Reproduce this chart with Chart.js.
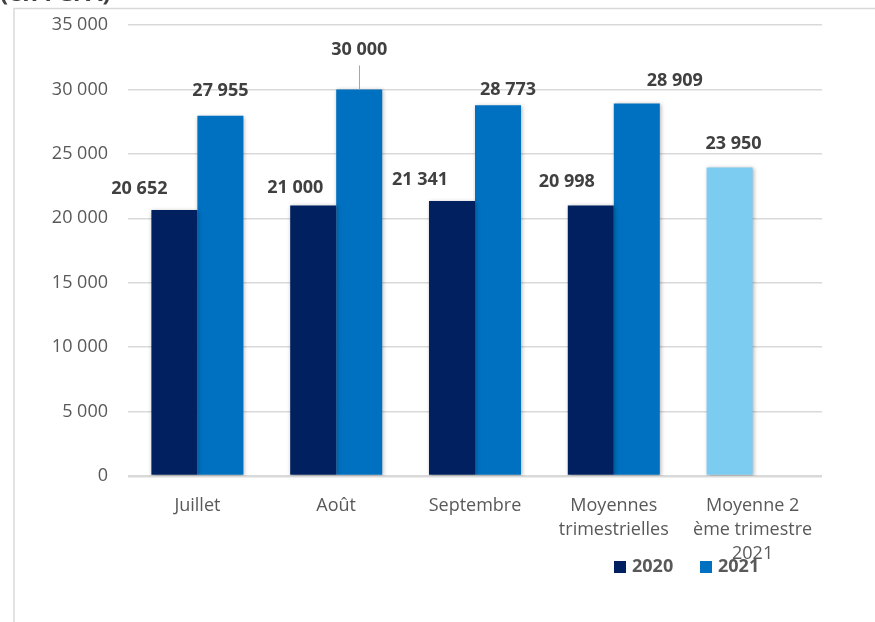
<!DOCTYPE html>
<html>
<head>
<meta charset="utf-8">
<script src="https://cdn.jsdelivr.net/npm/chart.js@4/dist/chart.umd.min.js"></script>
<style>
  html, body { margin: 0; padding: 0; background: #fff; }
  #wrap { position: relative; width: 875px; height: 622px; }
</style>
</head>
<body>
<div id="wrap"><canvas id="chart-bar" width="875" height="622"></canvas></div>
<script>
// donnees
const categories = ['Juillet', 'Août', 'Septembre', ['Moyennes', 'trimestrielles'], ['Moyenne 2', 'ème trimestre', '2021']];
const values2020 = [20652, 21000, 21341, 20998, 23950];
const values2021 = [27955, 30000, 28773, 28909, null];
const yTicks = [0, 5000, 10000, 15000, 20000, 25000, 30000, 35000];

const navy = '#002060';
const blue = '#0070c0';
const lightBlue = '#7ccbf0';

// decalage des etiquettes par rapport au haut de la barre
const labelShift = [
    [[-35, -21], [-18, -18], [-32, -21], [-24, -24], [4, -24]],
    [[0, -25], [0, -40], [10, -15], [38, -23], [0, 0]]
];

function fmt(v) {
    return String(v).replace(/\B(?=(\d{3})+(?!\d))/g, ' ');
}

const frame = {
    id: 'frame',
    beforeDraw(chart) {
        let ctx = chart.ctx;
        ctx.save();
        ctx.strokeStyle = '#d9d9d9';
        ctx.lineWidth = 1.5;
        ctx.beginPath();
        ctx.moveTo(14, 622);
        ctx.lineTo(14, 8.5);
        ctx.lineTo(875, 8.5);
        ctx.stroke();
        ctx.restore();
    }
};

const shadow = {
    id: 'shadow',
    beforeDatasetsDraw(chart) {
        let ctx = chart.ctx;
        ctx.save();
        ctx.shadowColor = 'rgba(0,0,0,0.3)';
        ctx.shadowBlur = 4;
        ctx.shadowOffsetX = 1;
        ctx.shadowOffsetY = 1;
    },
    afterDatasetsDraw(chart) {
        chart.ctx.restore();
    }
};

const labels = {
    id: 'labels',
    afterDraw(chart) {
        let ctx = chart.ctx;
        ctx.save();
        // titre coupe en haut
        ctx.fillStyle = '#404040';
        ctx.font = 'bold 24px "Open Sans"';
        ctx.textAlign = 'left';
        ctx.textBaseline = 'alphabetic';
        ctx.fillText('(en FCFA)', 0, 1);

        ctx.font = 'bold 18px "Open Sans"';
        ctx.textAlign = 'center';
        ctx.textBaseline = 'middle';
        chart.data.datasets.forEach(function (ds, d) {
            let meta = chart.getDatasetMeta(d);
            meta.data.forEach(function (bar, i) {
                let v = ds.data[i];
                if (v === null) return;
                let s = labelShift[d][i];
                let x = bar.x + s[0], y = bar.y + s[1];
                if (d === 1 && i === 1) {
                    ctx.strokeStyle = '#a6a6a6';
                    ctx.lineWidth = 1;
                    ctx.beginPath();
                    ctx.moveTo(Math.round(bar.x) + 0.5, y + 16);
                    ctx.lineTo(Math.round(bar.x) + 0.5, bar.y);
                    ctx.stroke();
                }
                ctx.fillStyle = '#404040';
                ctx.fillText(fmt(v), x, y);
            });
        });

        // legende
        let items = [[navy, chart.data.datasets[0].label, 614], [blue, chart.data.datasets[1].label, 700]];
        ctx.textAlign = 'left';
        items.forEach(function (it) {
            ctx.fillStyle = it[0];
            ctx.fillRect(it[2], 561, 12, 12);
            ctx.fillStyle = '#595959';
            ctx.fillText(it[1], it[2] + 18, 567);
        });
        ctx.restore();
    }
};

const ctx = document.getElementById('chart-bar');
const myBarChart = new Chart(ctx, {
    type: 'bar',
    data: {
        labels: categories,
        datasets: [{
            label: '2020',
            data: values2020,
            backgroundColor: [navy, navy, navy, navy, lightBlue]
        }, {
            label: '2021',
            data: values2021,
            backgroundColor: blue
        }]
    },
    options: {
        responsive: false,
        animation: false,
        layout: { autoPadding: false, padding: { top: 25, right: 53, left: 0, bottom: 0 } },
        datasets: {
            bar: { categoryPercentage: 0.663, barPercentage: 1 }
        },
        plugins: {
            legend: { display: false },
            tooltip: { enabled: false }
        },
        scales: {
            x: {
                afterFit: function (s) { s.height = 146; },
                grid: { display: false },
                border: { display: false },
                ticks: {
                    color: '#595959',
                    font: { family: 'Open Sans', size: 18, lineHeight: 1.33 },
                    padding: 10,
                    maxRotation: 0,
                    autoSkip: false
                }
            },
            y: {
                min: 0,
                max: 35000,
                afterFit: function (s) { s.width = 128; },
                afterBuildTicks: function (s) { s.ticks = yTicks.map(v => ({ value: v })); },
                border: { display: false },
                grid: {
                    drawTicks: false,
                    color: '#d9d9d9',
                    lineWidth: c => c.tick && c.tick.value === 0 ? 2.5 : 1.5
                },
                ticks: {
                    color: '#595959',
                    font: { family: 'Open Sans', size: 18, lineHeight: 0.5 },
                    padding: 20,
                    callback: v => fmt(v)
                }
            }
        }
    },
    plugins: [frame, shadow, labels]
});
</script>
</body>
</html>
